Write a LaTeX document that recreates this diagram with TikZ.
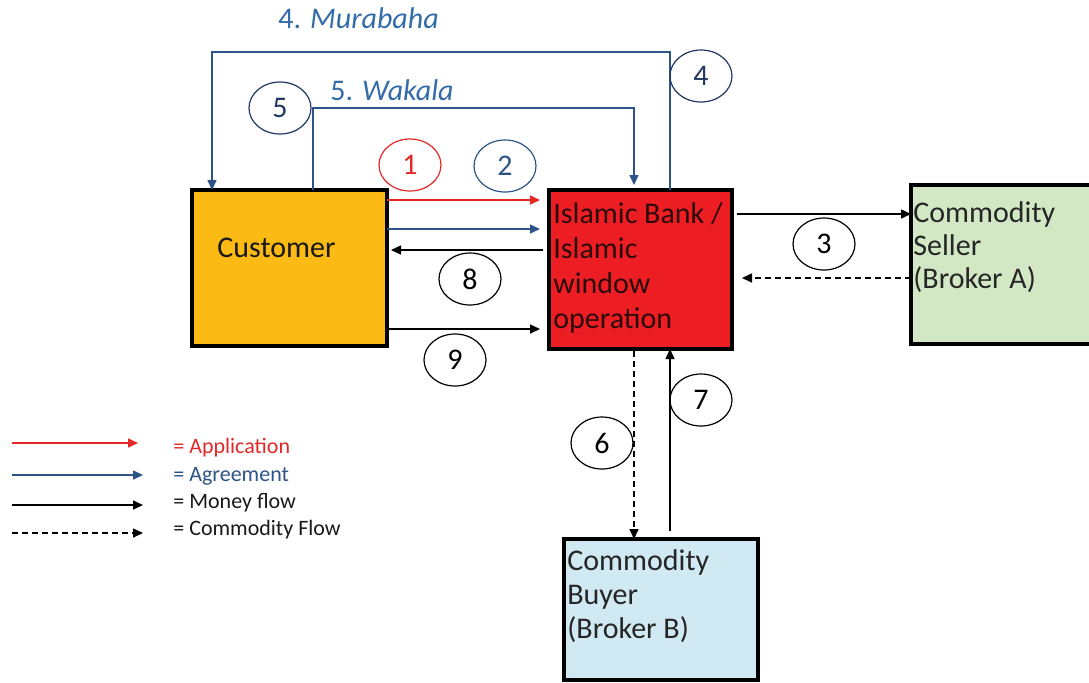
\documentclass[tikz,border=0pt]{standalone}
\usepackage{fontspec}
\setmainfont{Carlito}
\usetikzlibrary{arrows.meta,shapes.geometric}
\definecolor{custorange}{RGB}{252,186,20}
\definecolor{bankred}{RGB}{236,30,36}
\definecolor{sellergreen}{RGB}{210,232,196}
\definecolor{buyerblue}{RGB}{208,233,242}
\definecolor{appred}{RGB}{228,40,40}
\definecolor{agrblue}{RGB}{44,84,134}
\definecolor{lblblue}{RGB}{52,108,168}
\definecolor{navy}{RGB}{34,56,98}
\definecolor{banktext}{RGB}{45,10,10}
\tikzset{
  box/.style={draw=black, line width=2pt, inner sep=0pt, outer sep=0pt},
  boxtext/.style={anchor=base west, inner sep=0pt, align=left, font=\fontsize{15}{17.5}\selectfont},
  circ/.style={draw, ellipse, line width=0.6pt, inner sep=0pt, minimum width=31pt, minimum height=26pt, font=\fontsize{15}{18}\selectfont},
  tip/.style={-{Triangle[length=5pt,width=4.5pt]}},
  flow/.style={tip, line width=0.8pt},
  redflow/.style={flow, draw=appred},
  blueflow/.style={flow, draw=agrblue},
  moneyflow/.style={flow, draw=black},
  comflow/.style={flow, draw=black, dash pattern=on 3pt off 2pt},
  legtext/.style={anchor=base west, inner sep=0pt, font=\fontsize{11}{13}\selectfont},
  lbl/.style={anchor=base west, inner sep=0pt, text=lblblue, font=\fontsize{15}{18}\selectfont}
}
\begin{document}
\begin{tikzpicture}[x=0.5pt,y=-0.5pt]
\clip (0,0) rectangle (1089,682);
\useasboundingbox (0,0) rectangle (1089,682);
% boxes
\node[box, fill=custorange, minimum width=97.5pt, minimum height=78pt] (cust) at (289.5,268) {};
\node[box, fill=bankred, minimum width=91.5pt, minimum height=79.5pt] (bank) at (640.5,269.5) {};
\node[box, fill=sellergreen, minimum width=100pt, minimum height=79.5pt] (seller) at (1011,264.5) {};
\node[box, fill=buyerblue, minimum width=97pt, minimum height=70.5pt] (buyer) at (661,609.5) {};
% box texts
\node[boxtext, text=black!90] (custtxt) at (217,257) {Customer};
\node[boxtext, text=banktext] (banktxt) at (553,328) {Islamic Bank /\\Islamic\\window\\operation};
\node[boxtext, text=black!85, font=\fontsize{15}{16.5}\selectfont] (sellertxt) at (913,288) {Commodity\\Seller\\(Broker A)};
\node[boxtext, text=black!85, font=\fontsize{15}{17}\selectfont] (buyertxt) at (567,638) {Commodity\\Buyer\\(Broker B)};
% top labels
\node[lbl] (murlbl) at (278,28) {4. \textit{Murabaha}};
\node[lbl] (waklbl) at (330,100) {5. \textit{Wakala}};
% arrows between customer and bank
\draw[redflow, shorten >=4.5pt] (cust.east |- 0,200) -- (bank.west |- 0,200);
\draw[blueflow, shorten >=4.5pt] (cust.east |- 0,229) -- (bank.west |- 0,229);
\draw[moneyflow, shorten <=3pt, shorten >=2pt] (bank.west |- 0,250) -- (cust.east |- 0,250);
\draw[moneyflow, shorten >=4.5pt] (cust.east |- 0,329) -- (bank.west |- 0,329);
% bank - seller
\draw[moneyflow, shorten <=2.5pt] (bank.east |- 0,214) -- (seller.west |- 0,214);
\draw[comflow, shorten >=5pt] (seller.west |- 0,278) -- (bank.east |- 0,278);
% bank - buyer
\draw[comflow, shorten <=1pt] (bank.south -| 634,0) -- (buyer.north -| 634,0);
\draw[moneyflow, shorten <=4pt] (buyer.north -| 670,0) -- (bank.south -| 670,0);
% murabaha and wakala
\draw[blueflow] (bank.north -| 670,0) -- (670,52) -| (cust.north -| 212,0);
\draw[blueflow, shorten >=2.5pt] (cust.north -| 313,0) -- (313,108) -| (bank.north -| 634,0);
% numbered circles
\node[circ, draw=appred, text=appred] (c1) at (410,165) {1};
\node[circ, draw=agrblue, text=agrblue] (c2) at (505,166) {2};
\node[circ, draw=black, text=black] (c3) at (824,244) {3};
\node[circ, draw=navy, text=navy] (c4) at (701,76) {4};
\node[circ, draw=navy, text=navy] (c5) at (280,108) {5};
\node[circ, draw=black, text=black] (c6) at (602,443) {6};
\node[circ, draw=black, text=black] (c7) at (701,400) {7};
\node[circ, draw=black, text=black] (c8) at (470,279) {8};
\node[circ, draw=black, text=black] (c9) at (455,360) {9};
% legend
\coordinate (l1s) at (12,443); \coordinate (l1e) at (138,443);
\coordinate (l2s) at (12,475); \coordinate (l2e) at (143,475);
\coordinate (l3s) at (12,505); \coordinate (l3e) at (143,505);
\coordinate (l4s) at (12,533); \coordinate (l4e) at (143,533);
\draw[redflow] (l1s) -- (l1e);
\draw[blueflow] (l2s) -- (l2e);
\draw[moneyflow] (l3s) -- (l3e);
\draw[comflow] (l4s) -- (l4e);
\node[legtext, text=appred] (lt1) at (173,453) {= Application};
\node[legtext, text=agrblue] (lt2) at (173,481) {= Agreement};
\node[legtext, text=black!90] (lt3) at (173,508) {= Money flow};
\node[legtext, text=black!90] (lt4) at (173,535) {= Commodity Flow};
\end{tikzpicture}
\end{document}
